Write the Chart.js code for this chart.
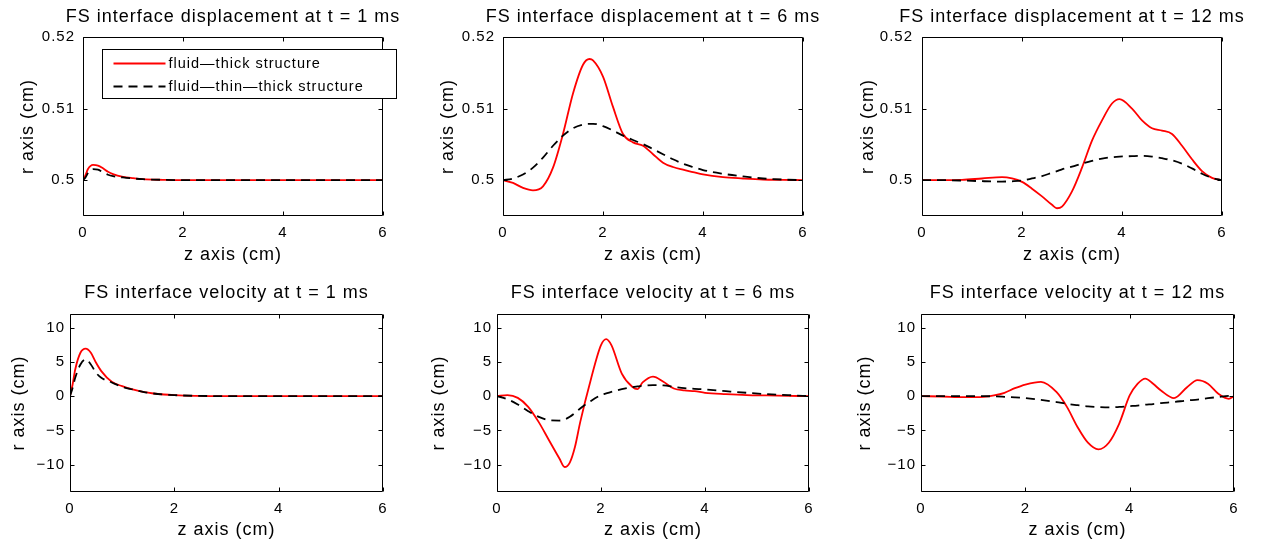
<!DOCTYPE html>
<html>
<head>
<meta charset="utf-8">
<title>FS interface displacement / velocity</title>
<script src="https://cdn.jsdelivr.net/npm/chart.js@4.4.0/dist/chart.umd.min.js"></script>
<style>
    body { margin: 0; background: #fff; width: 1266px; height: 545px; position: relative; overflow: hidden; }
    canvas { position: absolute; }
</style>
</head>
<body>
<canvas id="p1"></canvas>
<canvas id="p2"></canvas>
<canvas id="p3"></canvas>
<canvas id="p4"></canvas>
<canvas id="p5"></canvas>
<canvas id="p6"></canvas>
<script>
// ============================================
// DATA
// ============================================

const legendLabels = ["fluid\u2014thick structure", "fluid\u2014thin\u2014thick structure"];

const zTicks = [0, 2, 4, 6];
const dispTicks = [0.5, 0.51, 0.52];
const dispTickLabels = ["0.5", "0.51", "0.52"];
const velTicks = [-10, -5, 0, 5, 10];
const velTickLabels = ["\u221210", "\u22125", "0", "5", "10"];

// displacement, t = 1 ms
const zDisp1 = [0, 0.05, 0.1, 0.2, 0.3, 0.4, 0.5, 0.6, 0.8, 1.0, 1.2, 1.6, 2.0, 3.0, 4.0, 5.0, 6.0];
const dispThick1 = [0.5, 0.50071, 0.50156, 0.50213, 0.50204, 0.50166, 0.50118, 0.50085, 0.50047, 0.50028, 0.50014, 0.50005, 0.5, 0.5, 0.5, 0.5, 0.5];
const dispThin1 = [0.5, 0.50038, 0.501, 0.50156, 0.50147, 0.50109, 0.50076, 0.50057, 0.50038, 0.50024, 0.50014, 0.50005, 0.5, 0.5, 0.5, 0.5, 0.5];

// displacement, t = 6 ms
const zDisp6 = [0, 0.2, 0.4, 0.6, 0.8, 1.0, 1.2, 1.4, 1.6, 1.73, 1.8, 2.0, 2.2, 2.4, 2.6, 2.8, 3.0, 3.2, 3.4, 3.6, 3.8, 4.0, 4.4, 4.8, 5.2, 5.6, 6.0];
const dispThick6 = [0.5, 0.49962, 0.49892, 0.49858, 0.49915, 0.50175, 0.50646, 0.51212, 0.51613, 0.51693, 0.51675, 0.51448, 0.51024, 0.50646, 0.50528, 0.50481, 0.50363, 0.50245, 0.50184, 0.50146, 0.50113, 0.5008, 0.50042, 0.50024, 0.5001, 0.50005, 0.5];
const dispThin6 = [0.5, 0.50024, 0.5008, 0.50175, 0.50316, 0.50481, 0.50623, 0.50726, 0.50778, 0.50787, 0.50788, 0.50755, 0.50693, 0.50623, 0.50561, 0.50505, 0.50434, 0.50363, 0.50292, 0.50231, 0.50184, 0.50142, 0.5009, 0.50052, 0.50024, 0.50009, 0.5];

// displacement, t = 12 ms
const zDisp12 = [0, 0.4, 0.8, 1.2, 1.6, 1.8, 2.0, 2.2, 2.4, 2.6, 2.7, 2.8, 3.0, 3.2, 3.4, 3.6, 3.8, 3.95, 4.2, 4.4, 4.6, 4.8, 5.0, 5.2, 5.4, 5.6, 5.8, 6.0];
const dispThick12 = [0.5, 0.5, 0.50005, 0.50024, 0.50042, 0.50024, 0.49976, 0.49882, 0.49774, 0.49656, 0.49608, 0.49632, 0.49844, 0.50175, 0.50552, 0.50835, 0.51071, 0.51132, 0.51, 0.50835, 0.50726, 0.50693, 0.50646, 0.50481, 0.50292, 0.50127, 0.50033, 0.5];
const dispThin12 = [0.5, 0.5, 0.49995, 0.49986, 0.49981, 0.49985, 0.49995, 0.50024, 0.50057, 0.50104, 0.50127, 0.50151, 0.50189, 0.50231, 0.50269, 0.50302, 0.50321, 0.50329, 0.50336, 0.5034, 0.5033, 0.50307, 0.50278, 0.50231, 0.50165, 0.5009, 0.50033, 0.5];

// velocity, t = 1 ms
const zVel1 = [0, 0.05, 0.1, 0.2, 0.3, 0.4, 0.5, 0.6, 0.8, 1.0, 1.2, 1.4, 1.6, 1.8, 2.0, 2.4, 3.0, 4.0, 5.0, 6.0];
const velThick1 = [0, 1.7, 3.9, 6.34, 6.93, 6.34, 4.88, 3.66, 2.1, 1.46, 0.98, 0.63, 0.39, 0.24, 0.15, 0.05, 0, 0, 0, 0];
const velThin1 = [0, 1.2, 2.68, 4.63, 5.37, 4.63, 3.41, 2.68, 2.0, 1.37, 0.98, 0.63, 0.39, 0.24, 0.15, 0.05, 0, 0, 0, 0];

// velocity, t = 6 ms
const zVel6 = [0, 0.2, 0.4, 0.6, 0.8, 1.0, 1.2, 1.3, 1.4, 1.5, 1.6, 1.8, 2.0, 2.1, 2.2, 2.4, 2.6, 2.7, 2.8, 3.0, 3.2, 3.4, 3.6, 3.8, 4.0, 4.4, 4.8, 5.2, 5.6, 6.0];
const velThick6 = [0, 0.15, -0.25, -1.56, -3.76, -6.44, -9.1, -10.35, -9.7, -7.4, -3.8, 2.3, 7.46, 8.34, 7.46, 3.3, 1.37, 1.02, 2.0, 2.85, 2.1, 1.12, 0.83, 0.73, 0.49, 0.29, 0.15, 0.1, 0.05, 0];
const velThin6 = [0, -0.44, -1.22, -2.2, -3.02, -3.51, -3.56, -3.4, -3.02, -2.45, -1.8, -0.73, 0.15, 0.4, 0.63, 1.02, 1.32, 1.42, 1.51, 1.61, 1.56, 1.37, 1.17, 1.07, 0.98, 0.73, 0.49, 0.29, 0.15, 0];

// velocity, t = 12 ms
const zVel12 = [0, 0.4, 0.8, 1.2, 1.4, 1.6, 1.8, 2.0, 2.3, 2.6, 2.8, 3.0, 3.2, 3.4, 3.6, 3.8, 4.0, 4.15, 4.3, 4.45, 4.6, 4.85, 5.1, 5.3, 5.5, 5.7, 5.9, 6.0];
const velThick12 = [0, -0.05, -0.15, -0.1, 0.1, 0.49, 1.17, 1.7, 2.09, 0.58, -1.6, -4.5, -6.8, -7.77, -6.8, -4.0, 0.1, 1.8, 2.57, 1.8, 0.83, -0.29, 1.3, 2.33, 1.8, 0.34, -0.39, 0];
const velThin12 = [0, 0, 0, 0, -0.03, -0.1, -0.18, -0.29, -0.55, -0.87, -1.12, -1.32, -1.5, -1.6, -1.65, -1.58, -1.46, -1.37, -1.25, -1.15, -1.02, -0.85, -0.63, -0.5, -0.3, -0.12, 0.05, 0.1];

// ============================================
// PANEL LAYOUT
// ============================================

const FONT = "'Liberation Sans', Arial, sans-serif";

// yW is the room for the left axis; an empty right axis of the same width
// keeps the (full width) title centred over the plot box
const panels = [
    { id: "p1", left: 0, top: 0, yW: 83, plotW: 300, plotH: 179, xH: 56,
      title: "FS interface displacement at t = 1 ms", z: zDisp1, thick: dispThick1, thin: dispThin1,
      kind: "disp", titlePad: { top: 6, bottom: 9.4 }, yTitlePad: 17, yTickPad: 8, xTitlePad: 6, legend: true },
    { id: "p2", left: 420, top: 0, yW: 83, plotW: 300, plotH: 179, xH: 56,
      title: "FS interface displacement at t = 6 ms", z: zDisp6, thick: dispThick6, thin: dispThin6,
      kind: "disp", titlePad: { top: 6, bottom: 9.4 }, yTitlePad: 17, yTickPad: 8, xTitlePad: 6 },
    { id: "p3", left: 840, top: 0, yW: 82, plotW: 300, plotH: 179, xH: 56,
      title: "FS interface displacement at t = 12 ms", z: zDisp12, thick: dispThick12, thin: dispThin12,
      kind: "disp", titlePad: { top: 6, bottom: 9.4 }, yTitlePad: 17, yTickPad: 9, xTitlePad: 6 },
    { id: "p4", left: 0, top: 275, yW: 70, plotW: 313, plotH: 178, xH: 53,
      title: "FS interface velocity at t = 1 ms", z: zVel1, thick: velThick1, thin: velThin1,
      kind: "vel", titlePad: { top: 7, bottom: 10.4 }, yTitlePad: 8, yTickPad: 5, xTitlePad: 4 },
    { id: "p5", left: 420, top: 275, yW: 77, plotW: 312, plotH: 178, xH: 53,
      title: "FS interface velocity at t = 6 ms", z: zVel6, thick: velThick6, thin: velThin6,
      kind: "vel", titlePad: { top: 7, bottom: 10.4 }, yTitlePad: 8, yTickPad: 5, xTitlePad: 4 },
    { id: "p6", left: 840, top: 275, yW: 81, plotW: 313, plotH: 178, xH: 53,
      title: "FS interface velocity at t = 12 ms", z: zVel12, thick: velThick12, thin: velThin12,
      kind: "vel", titlePad: { top: 7, bottom: 10.4 }, yTitlePad: 14, yTickPad: 5, xTitlePad: 4 }
];

function toPoints(xs, ys) {
    return xs.map((x, i) => ({ x: x, y: ys[i] }));
}

/**
 * MATLAB-like letter spacing on the canvas text
 */
const spacingPlugin = {
    id: "spacing",
    beforeUpdate(chart) { chart.ctx.letterSpacing = "1px"; },
    beforeDraw(chart) { chart.ctx.letterSpacing = "1px"; }
};

/**
 * Box around the axes with inward ticks on all four sides
 */
const framePlugin = {
    id: "frame",
    afterDatasetsDraw(chart) {
        const ctx = chart.ctx;
        const a = chart.chartArea;
        const l = Math.round(a.left) + 0.5, r = Math.round(a.right) - 0.5;
        const t = Math.round(a.top) + 0.5, b = Math.round(a.bottom) - 0.5;
        const tl = 4;
        ctx.save();
        ctx.strokeStyle = "#000";
        ctx.lineWidth = 1;
        ctx.beginPath();
        ctx.rect(l, t, r - l, b - t);
        chart.scales.x.ticks.forEach(tk => {
            const px = Math.round(chart.scales.x.getPixelForValue(tk.value)) + 0.5;
            ctx.moveTo(px, b); ctx.lineTo(px, b - tl);
            ctx.moveTo(px, t); ctx.lineTo(px, t + tl);
        });
        chart.scales.y.ticks.forEach(tk => {
            const py = Math.round(chart.scales.y.getPixelForValue(tk.value)) + 0.5;
            ctx.moveTo(l, py); ctx.lineTo(l + tl, py);
            ctx.moveTo(r, py); ctx.lineTo(r - tl, py);
        });
        ctx.stroke();
        ctx.restore();
    }
};

/**
 * Boxed legend (only on the first panel)
 */
const legendPlugin = {
    id: "boxLegend",
    afterDraw(chart, args, opts) {
        if (!opts.show) return;
        const ctx = chart.ctx;
        const a = chart.chartArea;
        const bx = Math.round(a.left) + 19.5, by = Math.round(a.top) + 12.5;
        const bw = 294, bh = 49;
        ctx.save();
        ctx.fillStyle = "#fff";
        ctx.fillRect(bx, by, bw, bh);
        ctx.strokeStyle = "#000";
        ctx.lineWidth = 1;
        ctx.strokeRect(bx, by, bw, bh);
        chart.data.datasets.forEach((ds, i) => {
            const rowY = by + 14 + i * 23;
            ctx.beginPath();
            ctx.strokeStyle = ds.borderColor;
            ctx.lineWidth = ds.borderWidth;
            ctx.setLineDash(ds.borderDash || []);
            ctx.moveTo(bx + 11, rowY);
            ctx.lineTo(bx + 63, rowY);
            ctx.stroke();
            ctx.setLineDash([]);
            ctx.fillStyle = "#000";
            ctx.font = "14.5px " + FONT;
            ctx.textBaseline = "middle";
            ctx.textAlign = "left";
            ctx.fillText(ds.label, bx + 66, rowY);
        });
        ctx.restore();
    }
};

function buildPanel(p) {
    const canvas = document.getElementById(p.id);
    canvas.width = p.yW + p.plotW + p.yW;
    canvas.height = Math.round(p.titlePad.top + p.titlePad.bottom + 21.6 + p.plotH + p.xH);
    canvas.style.left = p.left + "px";
    canvas.style.top = p.top + "px";

    const isDisp = p.kind === "disp";
    const yTicks = isDisp ? dispTicks : velTicks;
    const yLabels = isDisp ? dispTickLabels : velTickLabels;

    return new Chart(canvas.getContext("2d"), {
        type: "line",
        data: {
            datasets: [
                {
                    label: legendLabels[0],
                    data: toPoints(p.z, p.thick),
                    borderColor: "#ff0000",
                    borderWidth: 1.8,
                    pointRadius: 0,
                    cubicInterpolationMode: "monotone",
                    fill: false,
                    order: 2
                },
                {
                    label: legendLabels[1],
                    data: toPoints(p.z, p.thin),
                    borderColor: "#000000",
                    borderWidth: 1.8,
                    borderDash: [9, 6],
                    pointRadius: 0,
                    cubicInterpolationMode: "monotone",
                    fill: false,
                    order: 1
                }
            ]
        },
        options: {
            responsive: false,
            animation: false,
            devicePixelRatio: 1,
            events: [],
            layout: { padding: 0 },
            plugins: {
                legend: { display: false },
                tooltip: { enabled: false },
                boxLegend: { show: !!p.legend },
                title: {
                    display: true,
                    text: p.title,
                    color: "#000",
                    font: { family: FONT, size: 18, weight: "normal" },
                    padding: p.titlePad
                }
            },
            scales: {
                x: {
                    type: "linear",
                    min: 0,
                    max: 6,
                    afterBuildTicks: s => { s.ticks = zTicks.map(v => ({ value: v })); },
                    afterFit: s => { s.height = p.xH; },
                    grid: { display: false, drawTicks: false },
                    border: { display: false },
                    ticks: { color: "#000", font: { family: FONT, size: 15 }, padding: 8, maxRotation: 0 },
                    title: {
                        display: true,
                        text: "z axis (cm)",
                        color: "#000",
                        font: { family: FONT, size: 18 },
                        padding: { top: 0, bottom: p.xTitlePad }
                    }
                },
                y: {
                    type: "linear",
                    min: isDisp ? 0.495 : -14,
                    max: isDisp ? 0.52 : 12,
                    afterBuildTicks: s => { s.ticks = yTicks.map(v => ({ value: v })); },
                    afterFit: s => { s.width = p.yW; },
                    grid: { display: false, drawTicks: false },
                    border: { display: false },
                    ticks: {
                        color: "#000",
                        font: { family: FONT, size: 15 },
                        padding: p.yTickPad,
                        callback: (v, i) => yLabels[i]
                    },
                    title: {
                        display: true,
                        text: "r axis (cm)",
                        color: "#000",
                        font: { family: FONT, size: 18 },
                        padding: { top: p.yTitlePad, bottom: 0 }
                    }
                },
                yRight: {
                    type: "linear",
                    position: "right",
                    afterFit: s => { s.width = p.yW; },
                    grid: { display: false, drawTicks: false },
                    border: { display: false },
                    ticks: { display: false }
                }
            }
        },
        plugins: [spacingPlugin, framePlugin, legendPlugin]
    });
}

window.addEventListener("load", function() {
    panels.forEach(buildPanel);
});
</script>
</body>
</html>
